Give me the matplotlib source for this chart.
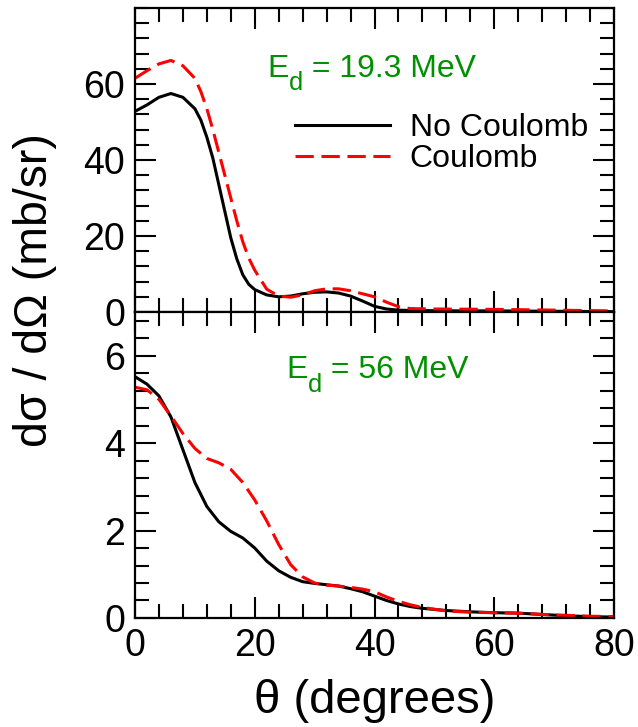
import numpy as np
import matplotlib
matplotlib.use("Agg")
import matplotlib.pyplot as plt
from matplotlib.ticker import MultipleLocator

plt.rcParams['font.family'] = ['Liberation Sans', 'DejaVu Sans']

# --- data ---
# E_d = 19.3 MeV panel
theta_19 = [0, 2, 4, 6, 8, 10, 11, 12, 13, 14, 15, 16, 17, 18, 19, 20, 22, 24, 26, 28,
            30, 32, 34, 36, 38, 40, 42, 44, 46, 50, 55, 60, 70, 80]
nocoul_19 = [52.8, 54.5, 56.5, 57.5, 56.5, 53.5, 50.5, 46.0, 40.5, 33.5, 26.5, 19.5, 14.0,
             9.8, 7.3, 5.9, 4.5, 4.0, 4.2, 4.8, 5.2, 5.3, 5.0, 4.2, 2.9, 1.5, 0.8, 0.5,
             0.4, 0.35, 0.3, 0.3, 0.2, 0.1]
coul_19 = [61.5, 63.5, 65.3, 66.2, 64.8, 61.5, 58.0, 53.5, 48.0, 42.0, 36.0, 30.0, 24.0,
           18.5, 14.2, 11.0, 6.0, 4.2, 3.9, 4.5, 5.6, 6.1, 6.1, 5.6, 4.8, 4.0, 2.6, 1.4,
           0.9, 0.8, 0.75, 0.7, 0.5, 0.3]

# E_d = 56 MeV panel
theta_56 = [0, 2, 4, 6, 8, 10, 12, 14, 16, 18, 20, 22, 24, 26, 28, 30, 32, 34, 36, 38,
            40, 42, 44, 46, 48, 52, 56, 60, 64, 68, 72, 76, 80]
nocoul_56 = [5.52, 5.35, 5.08, 4.6, 3.85, 3.1, 2.55, 2.2, 1.98, 1.83, 1.6, 1.30, 1.08,
             0.93, 0.83, 0.79, 0.76, 0.73, 0.67, 0.60, 0.50, 0.40, 0.32, 0.26, 0.22,
             0.17, 0.14, 0.12, 0.11, 0.08, 0.05, 0.03, 0.02]
coul_56 = [5.28, 5.22, 5.0, 4.62, 4.22, 3.88, 3.65, 3.55, 3.40, 3.1, 2.7, 2.22, 1.68,
           1.22, 0.94, 0.80, 0.75, 0.73, 0.70, 0.66, 0.60, 0.48, 0.38, 0.30, 0.24,
           0.16, 0.13, 0.12, 0.11, 0.08, 0.06, 0.04, 0.03]

labels = ["No Coulomb", "Coulomb"]
energies = ["19.3", "56"]
green = '#009000'


def energy_label(ax, x, y, value, size=23, drop=9.5):
    # "E" + low subscript "d" + rest, chained so the baselines line up
    sub = size * 0.8
    t1 = ax.text(x, y, 'E', transform=ax.transAxes, color=green, fontsize=size,
                 va='baseline', ha='left')
    t2 = ax.annotate('d', xy=(1, 0), xycoords=t1, xytext=(0, -drop + 0.21 * size),
                     textcoords='offset points', color=green, fontsize=sub,
                     va='baseline', ha='left')
    ax.annotate(' = ' + value + ' MeV', xy=(1, 0), xycoords=t2,
                xytext=(0, drop + 0.21 * sub),
                textcoords='offset points', color=green, fontsize=size,
                va='baseline', ha='left')


fig = plt.figure(figsize=(6.38, 7.27), dpi=100)
ax1 = fig.add_axes([0.2116, 0.5708, 0.7508, 0.4182])
ax2 = fig.add_axes([0.2116, 0.15, 0.7508, 0.4208])

for ax in (ax1, ax2):
    ax.set_xlim(0, 80)
    ax.xaxis.set_major_locator(MultipleLocator(20))
    ax.xaxis.set_minor_locator(MultipleLocator(4))
    ax.tick_params(which='both', direction='in', top=True, right=True, width=1.5,
                   labelsize=27, pad=7)
    ax.tick_params(which='major', length=15)
    ax.tick_params(which='minor', length=10)
    for s in ax.spines.values():
        s.set_linewidth(1.6)

# top panel
ax1.plot(theta_19, nocoul_19, color='black', lw=2.2, label=labels[0])
ax1.plot(theta_19, coul_19, color='red', lw=2.2, dashes=(6, 2.5), label=labels[1])
ax1.set_ylim(0, 80)
ax1.set_yticks([0, 20, 40, 60])
ax1.yaxis.set_minor_locator(MultipleLocator(4))
ax1.tick_params(labelbottom=False)
energy_label(ax1, 0.277, 0.774, energies[0])
ax1.legend(loc='upper left', bbox_to_anchor=(0.333, 0.655), frameon=False, fontsize=23,
           handlelength=3.0, handletextpad=0.6, borderpad=0, borderaxespad=0,
           labelspacing=0.05)

# bottom panel
ax2.plot(theta_56, nocoul_56, color='black', lw=2.2)
ax2.plot(theta_56, coul_56, color='red', lw=2.2, dashes=(6, 2.5))
ax2.set_ylim(0, 7)
ax2.set_yticks([0, 2, 4, 6])
ax2.yaxis.set_minor_locator(MultipleLocator(0.4))
energy_label(ax2, 0.317, 0.784, energies[1])
ax2.set_xlabel(r'θ (degrees)', fontsize=34, labelpad=11)

fig.text(0.055, 0.601, 'dσ / dΩ (mb/sr)', rotation=90, fontsize=33.5,
         ha='center', va='center')

fig.savefig('out.png', dpi=100)
